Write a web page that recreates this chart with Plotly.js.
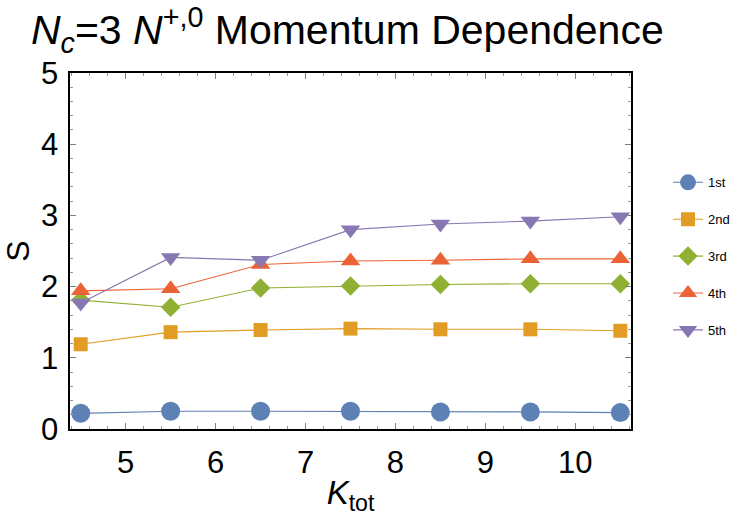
<!DOCTYPE html>
<html>
<head>
<meta charset="utf-8">
<script src="https://cdn.plot.ly/plotly-3.0.1.min.js"></script>
<style>html,body{margin:0;padding:0;background:#fff;}#chart{width:747px;height:516px;}</style>
</head>
<body>
<div id="chart"></div>
<script>
// Data
const kTot = [4.5, 5.5, 6.5, 7.5, 8.5, 9.5, 10.5];
const s1st = [0.22, 0.25, 0.25, 0.25, 0.24, 0.24, 0.23];
const s2nd = [1.19, 1.36, 1.39, 1.41, 1.40, 1.40, 1.38];
const s3rd = [1.81, 1.71, 1.98, 2.01, 2.03, 2.04, 2.04];
const s4th = [1.94, 1.97, 2.31, 2.36, 2.37, 2.39, 2.39];
const s5th = [1.77, 2.41, 2.37, 2.80, 2.88, 2.92, 2.98];
const seriesNames = ["1st", "2nd", "3rd", "4th", "5th"];
const xTickVals = [5, 6, 7, 8, 9, 10];
const yTickVals = [0, 1, 2, 3, 4, 5];

const colors = ["#5E81B5", "#E19C24", "#8FB032", "#EB6235", "#8778B3"];
const symbols = ["circle", "square", "diamond", "triangle-up", "triangle-down"];
const sizes = [19, 14, 15, 17, 17];
const allSeries = [s1st, s2nd, s3rd, s4th, s5th];

const traces = allSeries.map((ys, i) => ({
  x: kTot, y: ys, name: seriesNames[i], type: "scatter", mode: "lines+markers",
  legendgroup: "g" + i,
  line: {color: colors[i], width: 1.1},
  marker: {color: colors[i], symbol: symbols[i], size: sizes[i]}
}));

const FONT = "Liberation Sans, Arial, Helvetica, sans-serif";
const layout = {
  width: 747, height: 516,
  margin: {l: 70, r: 100, t: 72.5, b: 87, pad: 0},
  paper_bgcolor: "#fff", plot_bgcolor: "#fff",
  font: {family: FONT, color: "#000"},
  title: {
    text: "<i>N</i><sub><i>c</i></sub>=3 <i>N</i><sup>+,0</sup> Momentum Dependence",
    font: {family: FONT, size: 41, color: "#000"},
    xref: "container", yref: "container", x: 0.465, xanchor: "center", y: 1 - 30/516, yanchor: "middle"
  },
  xaxis: {
    range: [4.381, 10.619], tickvals: xTickVals, ticktext: xTickVals.map(String),
    showgrid: false, zeroline: false, showline: true, linecolor: "#000", linewidth: 1.6, mirror: "ticks",
    ticks: "inside", ticklen: 6, tickwidth: 1, tickcolor: "#808080",
    minor: {dtick: 0.2, tick0: 0, ticks: "inside", ticklen: 3, tickcolor: "#999", tickwidth: 1, showgrid: false},
    tickfont: {family: FONT, size: 31, color: "#000"},
    ticklabelstandoff: 5,
    title: {text: "<i>K</i><sub>tot</sub>", font: {family: FONT, size: 33, color: "#000"}, standoff: 14},
    automargin: false
  },
  yaxis: {
    range: [0, 5], tickvals: yTickVals, ticktext: yTickVals.map(String),
    showgrid: false, zeroline: false, showline: true, linecolor: "#000", linewidth: 1.6, mirror: "ticks",
    ticks: "inside", ticklen: 6, tickwidth: 1, tickcolor: "#808080",
    minor: {dtick: 0.2, tick0: 0, ticks: "inside", ticklen: 3, tickcolor: "#999", tickwidth: 1, showgrid: false},
    tickfont: {family: FONT, size: 31, color: "#000"},
    ticklabelstandoff: 4,
    title: {text: "S", font: {family: FONT, size: 32, color: "#000"}, standoff: 9},
    automargin: false
  },
  showlegend: true,
  legend: {
    x: 1.066, xanchor: "left", y: 0.735, yanchor: "top",
    font: {family: FONT, size: 13, color: "#000"},
    traceorder: "grouped", tracegroupgap: 17, itemwidth: 30,
    bgcolor: "rgba(0,0,0,0)", borderwidth: 0
  }
};

Plotly.newPlot("chart", traces, layout, {displayModeBar: false, staticPlot: true});
</script>
</body>
</html>
